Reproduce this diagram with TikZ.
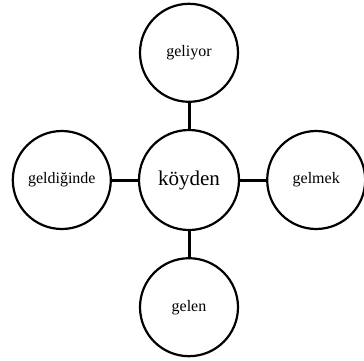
\documentclass[tikz,border=0pt]{standalone}
\usepackage{fontspec}
\setmainfont{Liberation Serif}
\usetikzlibrary{positioning}

\begin{document}
\begin{tikzpicture}[
  x=1pt,y=1pt,
  node distance=26pt,
  every node/.style={align=center},
  word/.style={draw=black,line width=2.2pt,circle,minimum size=98pt,inner sep=0pt,font=\fontsize{16}{18}\selectfont},
  root/.style={word,minimum size=100pt,font=\fontsize{21}{24}\selectfont},
  link/.style={line width=3pt,color=black}
]
\useasboundingbox (0,0) rectangle (364,360);
\node[root] (koy) at (189,180) {köyden};
\node[word,above=of koy] (geliyor) {geliyor};
\node[word,left=of koy] (geldiginde) {geldiğinde};
\node[word,right=of koy] (gelmek) {gelmek};
\node[word,below=of koy] (gelen) {gelen};
\draw[link] (koy)--(geliyor);
\draw[link] (koy)--(geldiginde);
\draw[link] (koy)--(gelmek);
\draw[link] (koy)--(gelen);
\end{tikzpicture}
\end{document}
